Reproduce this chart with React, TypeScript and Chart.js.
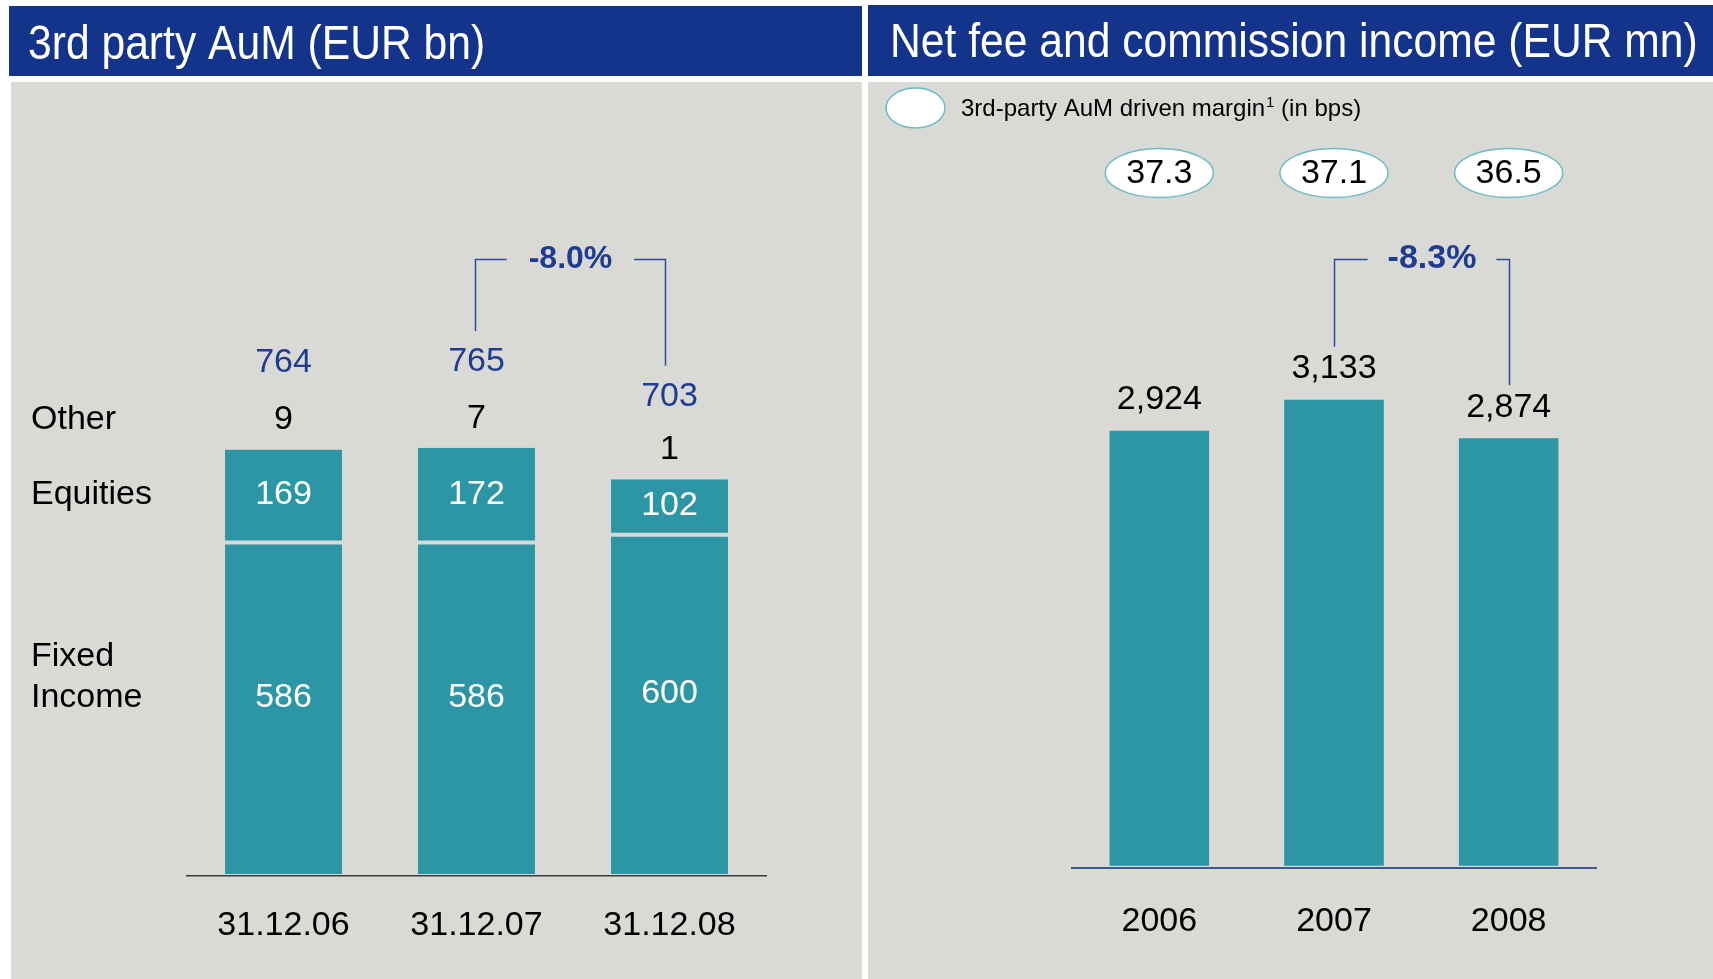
import React, { useEffect, useRef } from "react";
import { Chart, registerables } from "chart.js";

Chart.register(...registerables);

// ---------- data ----------
const aumDates = ["31.12.06", "31.12.07", "31.12.08"];
const fixedIncome = [586, 586, 600];
const equities = [169, 172, 102];
const other = [9, 7, 1];
const aumChange = "-8.0%";
const aumRowLabels = ["Other", "Equities", "Fixed", "Income"];

const years = ["2006", "2007", "2008"];
const netFees = [2924, 3133, 2874];
const margins = [37.3, 37.1, 36.5];
const feeChange = "-8.3%";

const leftTitle = "3rd party AuM (EUR bn)";
const rightTitle = "Net fee and commission income (EUR mn)";
const legendMain = "3rd-party AuM driven margin";
const legendSup = "1";
const legendTail = " (in bps)";

// ---------- style ----------
const FONT = '"Liberation Sans", Arial, Helvetica, sans-serif';
const HEADER = "#13348A";
const PANEL = "#D9D9D5";
const TEAL = "#2C96A4";
const BLUE_TEXT = "#1F3C91";
const BRACKET = "#2F4C9C";
const ELLIPSE_STROKE = "#6CBCC3";

const fmt = (v: number) => v.toLocaleString("en-US");

function drawTitle(ctx: CanvasRenderingContext2D, text: string, x: number, y: number) {
  ctx.save();
  ctx.translate(x, y);
  ctx.scale(0.888, 1);
  ctx.font = `48px ${FONT}`;
  ctx.fillStyle = "#FFFFFF";
  ctx.textAlign = "left";
  ctx.textBaseline = "alphabetic";
  ctx.fillText(text, 0, 0);
  ctx.restore();
}

const leftPlugin = {
  id: "leftDecor",
  beforeDraw(chart: any) {
    const ctx = chart.ctx as CanvasRenderingContext2D;
    ctx.save();
    ctx.fillStyle = "#FFFFFF";
    ctx.fillRect(0, 0, chart.width, chart.height);
    ctx.fillStyle = HEADER;
    ctx.fillRect(9, 6, 853, 70);
    ctx.fillStyle = PANEL;
    ctx.fillRect(11, 82, 851, 897);
    ctx.restore();
    drawTitle(ctx, leftTitle, 28, 59);
  },
  afterDatasetsDraw(chart: any) {
    const ctx = chart.ctx as CanvasRenderingContext2D;
    const xs = chart.scales.x;
    const ys = chart.scales.y;
    ctx.save();
    ctx.textAlign = "center";
    ctx.textBaseline = "middle";
    ctx.font = `34px ${FONT}`;
    const totalY: number[] = [];
    const otherY: number[] = [];
    const eqY: number[] = [];
    const fixY: number[] = [];
    for (let i = 0; i < aumDates.length; i++) {
      const cx = xs.getPixelForValue(i);
      const y0 = ys.getPixelForValue(0);
      const yF = ys.getPixelForValue(fixedIncome[i]);
      const yE = ys.getPixelForValue(fixedIncome[i] + equities[i]);
      const total = fixedIncome[i] + equities[i] + other[i];
      fixY[i] = (y0 + yF) / 2 - 12;
      eqY[i] = (yF + yE) / 2 - 2;
      otherY[i] = yE - 29.5;
      totalY[i] = ys.getPixelForValue(total) - 82;
      ctx.fillStyle = "#FFFFFF";
      ctx.fillText(String(fixedIncome[i]), cx, fixY[i]);
      ctx.fillText(String(equities[i]), cx, eqY[i]);
      ctx.fillStyle = "#000000";
      ctx.fillText(String(other[i]), cx, otherY[i]);
      ctx.fillStyle = BLUE_TEXT;
      ctx.fillText(String(total), cx, totalY[i]);
    }
    // row labels
    ctx.textAlign = "left";
    ctx.fillStyle = "#000000";
    ctx.fillText(aumRowLabels[0], 31, otherY[0]);
    ctx.fillText(aumRowLabels[1], 31, eqY[0]);
    ctx.fillText(aumRowLabels[2], 31, fixY[0] - 41);
    ctx.fillText(aumRowLabels[3], 31, fixY[0]);

    // bracket
    const xa = Math.round(xs.getPixelForValue(1) - 2) + 0.5;
    const xb = Math.round(xs.getPixelForValue(2) - 5) + 0.5;
    const hy = 259.5;
    ctx.font = `bold 32px ${FONT}`;
    const w = ctx.measureText(aumChange).width;
    const mid = (xa + xb) / 2;
    ctx.strokeStyle = BRACKET;
    ctx.lineWidth = 1.5;
    ctx.beginPath();
    ctx.moveTo(xa, totalY[1] - 31);
    ctx.lineTo(xa, hy);
    ctx.lineTo(mid - w / 2 - 22, hy);
    ctx.moveTo(mid + w / 2 + 22, hy);
    ctx.lineTo(xb, hy);
    ctx.lineTo(xb, totalY[2] - 31);
    ctx.stroke();
    ctx.textAlign = "center";
    ctx.fillStyle = BLUE_TEXT;
    ctx.fillText(aumChange, mid, 259);
    ctx.restore();
  },
};

const rightPlugin = {
  id: "rightDecor",
  beforeDraw(chart: any) {
    const ctx = chart.ctx as CanvasRenderingContext2D;
    ctx.save();
    ctx.fillStyle = "#FFFFFF";
    ctx.fillRect(0, 0, chart.width, chart.height);
    ctx.fillStyle = HEADER;
    ctx.fillRect(3, 5, 845, 71);
    ctx.fillStyle = PANEL;
    ctx.fillRect(3, 82, 845, 897);
    ctx.restore();
    drawTitle(ctx, rightTitle, 25, 57);
  },
  afterDatasetsDraw(chart: any) {
    const ctx = chart.ctx as CanvasRenderingContext2D;
    const xs = chart.scales.x;
    const ys = chart.scales.y;
    ctx.save();
    // legend
    ctx.beginPath();
    ctx.ellipse(50.5, 108, 29.5, 20, 0, 0, Math.PI * 2);
    ctx.fillStyle = "#FFFFFF";
    ctx.fill();
    ctx.strokeStyle = ELLIPSE_STROKE;
    ctx.lineWidth = 1.5;
    ctx.stroke();
    ctx.fillStyle = "#000000";
    ctx.textAlign = "left";
    ctx.textBaseline = "alphabetic";
    ctx.font = `24px ${FONT}`;
    let lx = 96;
    const lb = 116;
    ctx.fillText(legendMain, lx, lb);
    lx += ctx.measureText(legendMain).width + 1;
    ctx.font = `15px ${FONT}`;
    ctx.fillText(legendSup, lx, lb - 9);
    lx += ctx.measureText(legendSup).width;
    ctx.font = `24px ${FONT}`;
    ctx.fillText(legendTail, lx, lb);

    ctx.textAlign = "center";
    ctx.textBaseline = "middle";
    const valY: number[] = [];
    for (let i = 0; i < years.length; i++) {
      const cx = xs.getPixelForValue(i);
      valY[i] = ys.getPixelForValue(netFees[i]) - 31;
      ctx.font = `34px ${FONT}`;
      ctx.fillStyle = "#000000";
      ctx.fillText(fmt(netFees[i]), cx, valY[i]);
      // margin ellipse
      ctx.beginPath();
      ctx.ellipse(cx, 173, 54, 24.5, 0, 0, Math.PI * 2);
      ctx.fillStyle = "#FFFFFF";
      ctx.fill();
      ctx.strokeStyle = ELLIPSE_STROKE;
      ctx.lineWidth = 1.5;
      ctx.stroke();
      ctx.fillStyle = "#000000";
      ctx.fillText(margins[i].toFixed(1), cx, 174);
    }
    // bracket
    const xa = Math.round(xs.getPixelForValue(1)) + 0.5;
    const xb = Math.round(xs.getPixelForValue(2)) + 0.5;
    const hy = 259.5;
    ctx.font = `bold 34px ${FONT}`;
    const w = ctx.measureText(feeChange).width;
    const mid = (xa + xb) / 2 + 10;
    ctx.strokeStyle = BRACKET;
    ctx.lineWidth = 1.5;
    ctx.beginPath();
    ctx.moveTo(xa, valY[1] - 22);
    ctx.lineTo(xa, hy);
    ctx.lineTo(mid - w / 2 - 20, hy);
    ctx.moveTo(mid + w / 2 + 20, hy);
    ctx.lineTo(xb, hy);
    ctx.lineTo(xb, valY[2] - 22);
    ctx.stroke();
    ctx.fillStyle = BLUE_TEXT;
    ctx.fillText(feeChange, mid, 259);
    ctx.restore();
  },
};

function LeftChart() {
  const ref = useRef<HTMLCanvasElement>(null);
  useEffect(() => {
    if (!ref.current) return;
    const chart = new Chart(ref.current, {
      type: "bar",
      data: {
        labels: aumDates,
        datasets: [
          {
            label: "Fixed Income",
            data: fixedIncome,
            backgroundColor: TEAL,
            borderWidth: 0,
          },
          {
            label: "Equities",
            data: equities,
            backgroundColor: TEAL,
            borderColor: PANEL,
            borderWidth: { top: 0, left: 0, right: 0, bottom: 4 },
            borderSkipped: false,
          },
          {
            label: "Other",
            data: other,
            backgroundColor: "rgba(0,0,0,0)",
            borderWidth: 0,
          },
        ],
      },
      options: {
        responsive: false,
        animation: false,
        devicePixelRatio: 1,
        layout: { padding: { left: 187, right: 99, top: 87, bottom: 4 } },
        datasets: { bar: { barPercentage: 0.606, categoryPercentage: 1 } },
        plugins: { legend: { display: false }, tooltip: { enabled: false } },
        scales: {
          x: {
            stacked: true,
            grid: { display: false, drawTicks: false },
            border: { display: true, color: "#3A3A3A", width: 1.5 },
            ticks: {
              color: "#000000",
              font: { family: FONT, size: 34 },
              padding: 29,
              maxRotation: 0,
              autoSkip: false,
            },
          },
          y: { stacked: true, display: false, min: -4, max: 1400 },
        },
      },
      plugins: [leftPlugin],
    } as any);
    return () => chart.destroy();
  }, []);
  return (
    <canvas
      ref={ref}
      width={865}
      height={979}
      style={{ position: "absolute", left: 0, top: 0, width: 865, height: 979, display: "block" }}
    />
  );
}

function RightChart() {
  const ref = useRef<HTMLCanvasElement>(null);
  useEffect(() => {
    if (!ref.current) return;
    const chart = new Chart(ref.current, {
      type: "bar",
      data: {
        labels: years,
        datasets: [
          {
            label: "Net fee and commission income",
            data: netFees,
            backgroundColor: TEAL,
            borderWidth: 0,
          },
        ],
      },
      options: {
        responsive: false,
        animation: false,
        devicePixelRatio: 1,
        layout: { padding: { left: 207, right: 117, top: 122, bottom: 4 } },
        datasets: { bar: { barPercentage: 0.57, categoryPercentage: 1 } },
        plugins: { legend: { display: false }, tooltip: { enabled: false } },
        scales: {
          x: {
            grid: { display: false, drawTicks: false },
            border: { display: true, color: "#3E5A8A", width: 2 },
            ticks: {
              color: "#000000",
              font: { family: FONT, size: 34 },
              padding: 33,
              maxRotation: 0,
              autoSkip: false,
            },
          },
          y: { display: false, min: -17, max: 5000 },
        },
      },
      plugins: [rightPlugin],
    } as any);
    return () => chart.destroy();
  }, []);
  return (
    <canvas
      ref={ref}
      width={848}
      height={979}
      style={{ position: "absolute", left: 865, top: 0, width: 848, height: 979, display: "block" }}
    />
  );
}

export default function App() {
  return (
    <div
      style={{
        position: "fixed",
        left: 0,
        top: 0,
        width: 1713,
        height: 979,
        background: "#FFFFFF",
        overflow: "hidden",
      }}
    >
      <LeftChart />
      <RightChart />
    </div>
  );
}
